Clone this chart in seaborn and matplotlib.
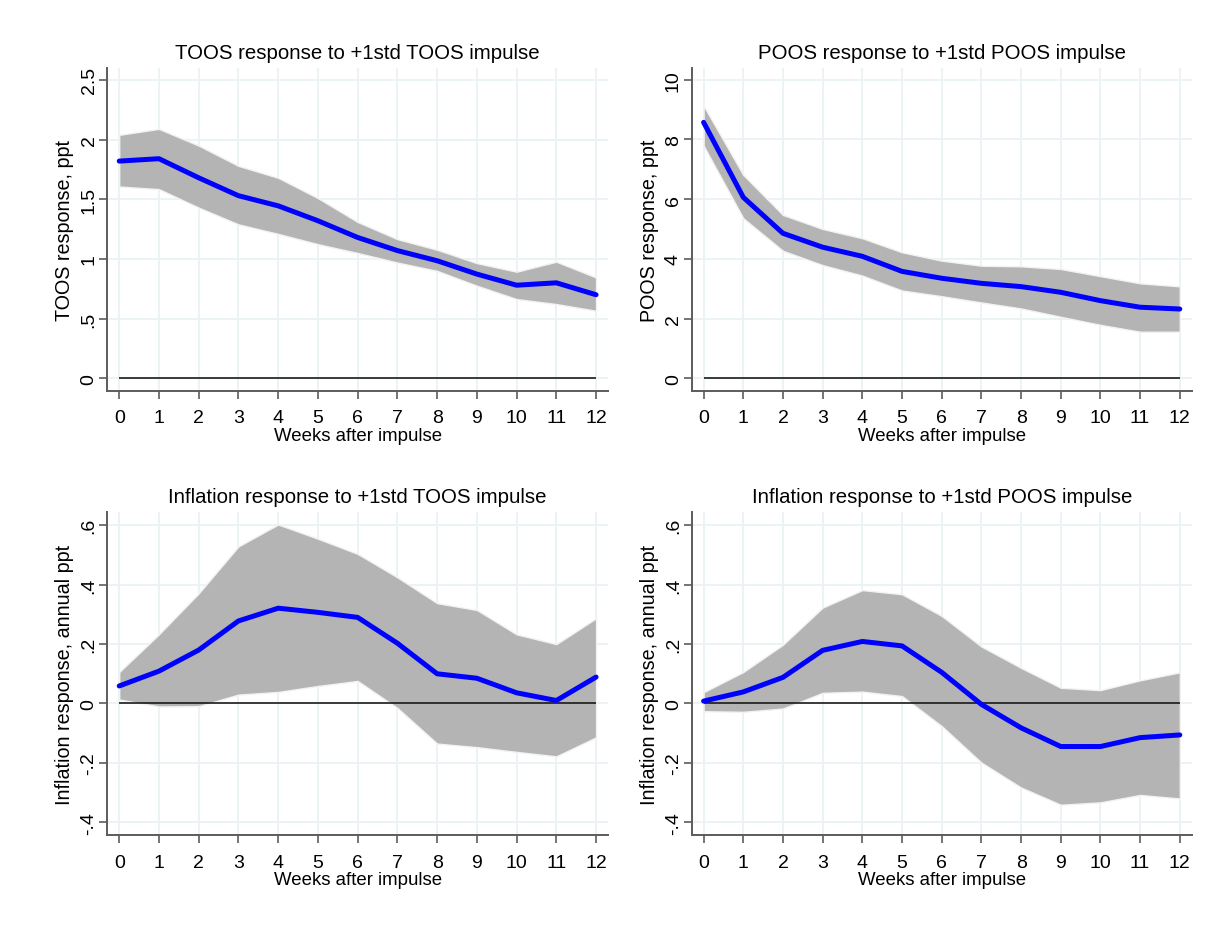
import numpy as np
import pandas as pd
import matplotlib
matplotlib.use("Agg")
import matplotlib.pyplot as plt
import seaborn as sns

# weeks after the impulse
weeks = list(range(13))

# TOOS -> TOOS
toos_irf = [1.82, 1.84, 1.68, 1.53, 1.445, 1.32, 1.18, 1.07, 0.985, 0.873, 0.78, 0.80, 0.70]
toos_hi = [2.04, 2.09, 1.95, 1.78, 1.68, 1.51, 1.31, 1.166, 1.077, 0.965, 0.893, 0.977, 0.845]
toos_lo = [1.607, 1.585, 1.43, 1.29, 1.21, 1.124, 1.05, 0.97, 0.90, 0.776, 0.664, 0.622, 0.566]

# POOS -> POOS
poos_irf = [8.57, 6.06, 4.855, 4.39, 4.085, 3.58, 3.35, 3.18, 3.07, 2.88, 2.60, 2.38, 2.32]
poos_hi = [9.13, 6.81, 5.47, 5.0, 4.69, 4.22, 3.94, 3.77, 3.75, 3.66, 3.42, 3.18, 3.08]
poos_lo = [7.79, 5.36, 4.27, 3.79, 3.44, 2.94, 2.75, 2.54, 2.34, 2.06, 1.79, 1.56, 1.56]

# TOOS -> inflation
inf_toos_irf = [0.059, 0.109, 0.18, 0.278, 0.321, 0.307, 0.29, 0.203, 0.10, 0.085, 0.036, 0.01, 0.089]
inf_toos_hi = [0.106, 0.233, 0.371, 0.529, 0.603, 0.555, 0.504, 0.425, 0.338, 0.315, 0.233, 0.20, 0.287]
inf_toos_lo = [0.0135, -0.010, -0.009, 0.030, 0.039, 0.059, 0.076, -0.015, -0.135, -0.147, -0.163, -0.178, -0.114]

# POOS -> inflation
inf_poos_irf = [0.008, 0.039, 0.088, 0.179, 0.209, 0.194, 0.105, -0.003, -0.082, -0.145, -0.145, -0.115, -0.106]
inf_poos_hi = [0.038, 0.106, 0.198, 0.323, 0.382, 0.368, 0.295, 0.192, 0.12, 0.053, 0.045, 0.078, 0.105]
inf_poos_lo = [-0.026, -0.028, -0.017, 0.036, 0.040, 0.025, -0.076, -0.199, -0.283, -0.341, -0.333, -0.308, -0.320]

titles = [
    "TOOS response to +1std TOOS impulse",
    "POOS response to +1std POOS impulse",
    "Inflation response to +1std TOOS impulse",
    "Inflation response to +1std POOS impulse",
]
ylabels = [
    "TOOS response, ppt",
    "POOS response, ppt",
    "Inflation response, annual ppt",
    "Inflation response, annual ppt",
]
yticks = [
    [0, 0.5, 1, 1.5, 2, 2.5],
    [0, 2, 4, 6, 8, 10],
    [-0.4, -0.2, 0, 0.2, 0.4, 0.6],
    [-0.4, -0.2, 0, 0.2, 0.4, 0.6],
]
yticklabels = [
    ["0", ".5", "1", "1.5", "2", "2.5"],
    ["0", "2", "4", "6", "8", "10"],
    ["-.4", "-.2", "0", ".2", ".4", ".6"],
    ["-.4", "-.2", "0", ".2", ".4", ".6"],
]
ylims = [(-0.104, 2.6), (-0.415, 10.39), (-0.443, 0.645), (-0.443, 0.645)]

series = [
    (toos_irf, toos_lo, toos_hi),
    (poos_irf, poos_lo, poos_hi),
    (inf_toos_irf, inf_toos_lo, inf_toos_hi),
    (inf_poos_irf, inf_poos_lo, inf_poos_hi),
]

sns.set_theme(style="white")
plt.rcParams["font.family"] = ["Liberation Sans", "DejaVu Sans"]

fig = plt.figure(figsize=(12.17, 9.28), dpi=100)

W, H = 1217, 928
boxes = [
    (107.3, 69, 608, 391.7),
    (691.7, 69, 1191.7, 391.7),
    (107.3, 513, 608, 836),
    (691.7, 513, 1191.7, 836),
]

spine_col = "#5c5c5c"
grid_col = "#eaf2f3"

for i, (x0, y0, x1, y1) in enumerate(boxes):
    ax = fig.add_axes([x0 / W, 1 - y1 / H, (x1 - x0) / W, (y1 - y0) / H])
    irf, lo, hi = series[i]
    df = pd.DataFrame({"week": weeks, "irf": irf, "lo": lo, "hi": hi})

    ax.fill_between(df["week"], df["lo"], df["hi"], color="#b4b4b4",
                    edgecolor="#f2f2f2", linewidth=1.0, zorder=2)
    ax.hlines(0, 0, 12, color="#1a1a1a", linewidth=1.2, zorder=3)
    sns.lineplot(data=df, x="week", y="irf", ax=ax, color="#0000ff",
                 linewidth=3.6, zorder=4)

    ax.set_xlim(-0.3, 12.3)
    ax.set_ylim(*ylims[i])
    ax.set_xticks(weeks)
    ax.set_xticklabels([str(w) for w in weeks])
    ax.set_yticks(yticks[i])
    ax.set_yticklabels(yticklabels[i], rotation=90, va="center")

    ax.grid(True, color=grid_col, linewidth=1.3, zorder=0)
    ax.set_axisbelow(True)

    for s in ["top", "right"]:
        ax.spines[s].set_visible(False)
    for s in ["left", "bottom"]:
        ax.spines[s].set_color(spine_col)
        ax.spines[s].set_linewidth(1.4)

    ax.tick_params(axis="both", which="major", length=5.5, width=1.2,
                   color=spine_col, labelsize=14, labelcolor="black",
                   left=True, bottom=True)
    ax.tick_params(axis="x", pad=8)
    ax.tick_params(axis="y", pad=1.5)

    ax.set_title(titles[i], fontsize=14.7, color="black", pad=7)
    ax.set_xlabel("Weeks after impulse", fontsize=13.4, color="black", labelpad=0.5)
    ax.set_ylabel(ylabels[i], fontsize=14.2, color="black", labelpad=4.5)

fig.savefig("out.png", dpi=100, facecolor="white")
